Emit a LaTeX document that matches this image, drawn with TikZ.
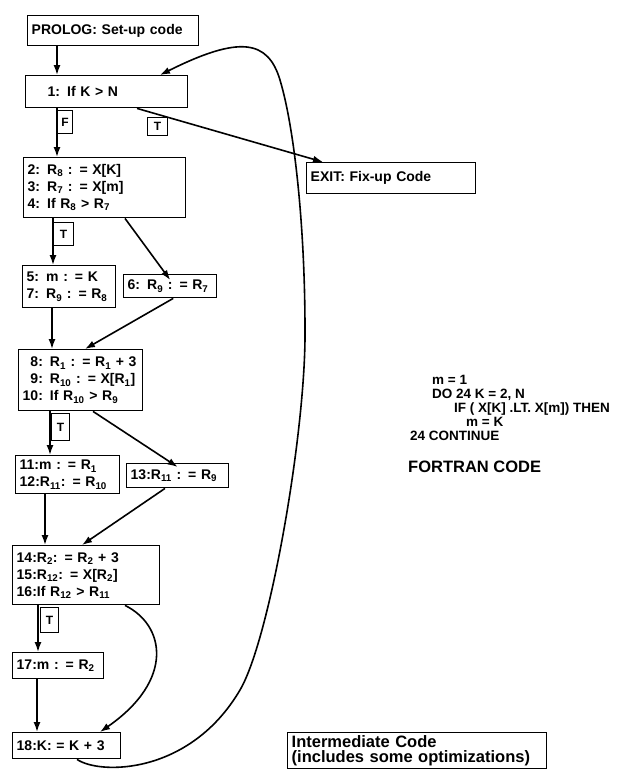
\documentclass[tikz,border=0pt]{standalone}
\usepackage{fontspec}
\setmainfont{Liberation Sans}
\usetikzlibrary{arrows.meta, positioning}

\newcommand{\reg}[1]{R\textsubscript{#1}}

\begin{document}
\begin{tikzpicture}[x=1pt, y=-1pt,
    box/.style={draw, line width=1.4pt, anchor=north west, inner xsep=4pt, inner ysep=2pt, align=left, font=\fontsize{14}{17}\selectfont\bfseries},
    cond/.style={draw, line width=1.2pt, anchor=north west, inner sep=0pt, font=\fontsize{12}{13}\selectfont\bfseries},
    arrow/.style={-{Latex[length=10pt, width=7pt]}, line width=1.6pt}
]
\useasboundingbox (0,0) rectangle (621,772);

% Blocks
\node[box, text width=163pt, minimum height=30pt] (prolog) at (27,15) {PROLOG: Set-up code};
\node[box, text width=154pt, minimum height=32pt] (cmp1) at (25,75) {\hspace*{18pt}1: If K > N};
\node[box, text width=161pt, minimum height=31pt] (exit) at (306,162) {EXIT: Fix-up Code};
\node[box, text width=154pt, minimum height=60pt] (cmp2) at (23,157) {2: \reg{8} : = X[K]\\3: \reg{7} : = X[m]\\4: If \reg{8} > \reg{7}};
\node[box, text width=85pt, minimum height=42pt] (set5) at (22,265) {5: m : = K\\7: \reg{9} : = \reg{8}};
\node[box, text width=85pt, minimum height=23pt] (set6) at (123,274) {6: \reg{9} : = \reg{7}};
\node[box, text width=116pt, minimum height=61pt] (cmp8) at (18,349) {\phantom{1}8: \reg{1} : = \reg{1} + 3\\\phantom{1}9: \reg{10} : = X[\reg{1}]\\10: If \reg{10} > \reg{9}};
\node[box, text width=96pt, minimum height=38pt] (set11) at (15,455) {11:m : = \reg{1}\\12:\reg{11}: = \reg{10}};
\node[box, text width=94pt, minimum height=24pt] (set13) at (126,463) {13:\reg{11} : = \reg{9}};
\node[box, text width=139pt, minimum height=59pt] (cmp14) at (12,545) {14:\reg{2}: = \reg{2} + 3\\15:\reg{12}: = X[\reg{2}]\\16:If \reg{12} > \reg{11}};
\node[box, text width=83pt, minimum height=26pt] (set17) at (12,652) {17:m : = \reg{2}};
\node[box, text width=100pt, minimum height=26pt] (inc18) at (12,732) {18:K: = K + 3};

% Branch labels
\node[cond, minimum width=15pt, minimum height=23pt] (lblF) at (57,110) {F};
\node[cond, minimum width=20pt, minimum height=18pt] (lblT1) at (147,117) {T};
\node[cond, minimum width=20pt, minimum height=23pt] (lblT2) at (53,222) {T};
\node[cond, minimum width=18pt, minimum height=27pt] (lblT3) at (51,413) {T};
\node[cond, minimum width=18pt, minimum height=25pt] (lblT4) at (40,607) {T};

% Source and notes
\node[anchor=north west, inner sep=0pt, align=left, font=\fontsize{13.5}{14}\selectfont\bfseries] (fortran) at (410,375)
  {\hspace*{22pt}m = 1\\\hspace*{22pt}DO 24 K = 2, N\\\hspace*{44pt}IF ( X[K] .LT. X[m]) THEN\\\hspace*{56pt}m = K\\24 CONTINUE};
\node[anchor=north west, inner sep=0pt, font=\fontsize{16.5}{18}\selectfont\bfseries] (title) at (408,461) {FORTRAN CODE};
\node[box, text width=251pt, minimum height=36pt, font=\fontsize{16.5}{15}\selectfont\bfseries] (note) at (287,732) {Intermediate Code\\(includes some optimizations)};

% Connections
\draw[arrow] ([xshift=30pt]prolog.south west) -- ([xshift=30pt]prolog.south west |- cmp1.north);
\draw[arrow] ([xshift=32pt]cmp1.south west) -- ([xshift=32pt]cmp1.south west |- cmp2.north);
\draw[arrow] ([xshift=112pt]cmp1.south west) -- ([xshift=17pt]exit.north west);
\draw[arrow] ([xshift=30pt]cmp2.south west) -- ([xshift=30pt]cmp2.south west |- set5.north);
\draw[arrow] ([xshift=102pt]cmp2.south west) -- ([yshift=-6pt]set6.north);
\draw[arrow] ([xshift=30pt]set5.south west) -- ([xshift=30pt]set5.south west |- cmp8.north);
\draw[arrow] ([xshift=3pt]set6.south) -- ([xshift=67pt]cmp8.north west);
\draw[arrow] ([xshift=32pt]cmp8.south west) -- ([xshift=32pt]cmp8.south west |- set11.north);
\draw[arrow] ([xshift=75pt]cmp8.south west) -- ([yshift=-4pt]set13.north);
\draw[arrow] ([xshift=30pt]set11.south west) -- ([xshift=30pt]set11.south west |- cmp14.north);
\draw[arrow] ([xshift=39pt]set13.south west) -- ([xshift=70pt]cmp14.north west);
\draw[arrow] ([xshift=26pt]cmp14.south west) -- ([xshift=26pt]cmp14.south west |- set17.north);
\draw[arrow] ([xshift=25pt]set17.south west) -- ([xshift=25pt]set17.south west |- inc18.north);
\draw[arrow] ([xshift=113pt]cmp14.south west) .. controls (165,625) and (175,680) .. ([xshift=88pt]inc18.north west);

% Loop back
\draw[arrow] ([xshift=65pt]inc18.south west) .. controls (100,775) and (190,775) .. (240,690)
  .. controls (270,639) and (306,430) .. (305,330)
  .. controls (305,230) and (295,130) .. (280,80)
  .. controls (268,40) and (240,35) .. ([xshift=135pt]cmp1.north west);

\end{tikzpicture}
\end{document}
